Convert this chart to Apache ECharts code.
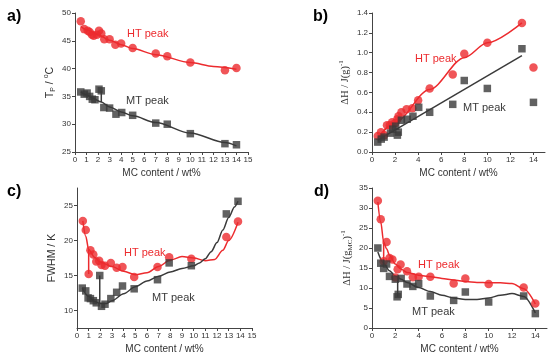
<!DOCTYPE html>
<html>
<head>
<meta charset="utf-8">
<script src="https://cdn.jsdelivr.net/npm/echarts@6/dist/echarts.min.js"></script>
<style>
html,body{margin:0;padding:0;background:#fff;}
#c{width:550px;height:359px;}
</style>
</head>
<body>
<div id="c"></div>
<script>
// ---------- DATA ----------
// panel a: peak temperature
const aHT = [[0.5,48.5],[0.8,47.1],[1.1,46.8],[1.27,46.6],[1.47,46.1],[1.62,45.9],[1.9,46.1],[2.08,46.8],[2.28,46.3],[2.54,45.3],[3,45.3],[3.5,44.3],[4,44.5],[5,43.7],[7,42.7],[8,42.2],[10,41.1],[13,39.7],[14,40.1]];
const aMT = [[0.5,35.8],[0.8,35.4],[1.05,35.6],[1.27,35.0],[1.5,34.5],[1.73,34.4],[2.08,36.3],[2.28,36.0],[2.5,33.0],[3,32.9],[3.55,31.8],[4.05,32.1],[5,31.6],[7,30.2],[8,30.0],[10,28.3],[13,26.5],[14,26.3]];
const aHTfit = [[0.5,47.6],[1,47.0],[2,46.1],[3,45.1],[4,44.3],[5,43.6],[7,42.5],[10,41.1],[12,40.4],[14,39.9]];
const aMTfit = [[0.5,35.8],[1,35.3],[1.5,34.7],[2.28,34.0],[3,33.1],[4,32.2],[5,31.5],[7,30.3],[10,28.4],[13,26.7],[14,26.1]];
const aMTspike = [[2.28,36.0],[2.28,34.0]];
// panel b: enthalpy per gram
const bHT = [[0.5,0.16],[0.78,0.20],[1.05,0.17],[1.3,0.27],[1.55,0.27],[1.75,0.30],[2,0.29],[2.2,0.33],[2.3,0.36],[2.55,0.40],[3,0.43],[3.5,0.44],[4,0.52],[5,0.64],[7,0.78],[8,0.99],[10,1.10],[13,1.30],[14,0.85]];
const bMT = [[0.5,0.10],[0.8,0.13],[1.05,0.15],[1.6,0.19],[1.8,0.23],[2.05,0.26],[2.2,0.17],[2.28,0.20],[2.55,0.32],[3.05,0.33],[3.55,0.36],[4.05,0.45],[5,0.40],[7,0.48],[8,0.72],[10,0.64],[13,1.04],[14,0.50]];
const bHTfit = [[0.5,0.14],[2,0.30],[5,0.63],[8,0.95],[10,1.10],[13,1.30]];
const bMTfit = [[0.5,0.12],[13,0.97]];
// panel c: FWHM
const cHT = [[0.5,22.8],[0.75,21.5],[1,15.2],[1.15,18.6],[1.4,18.0],[1.65,17.0],[1.9,17.1],[2.1,16.5],[2.4,16.4],[2.9,16.8],[3.4,16.1],[3.9,16.2],[4.9,14.8],[6.9,16.2],[7.9,17.6],[9.8,17.4],[12.8,20.5],[13.8,22.7]];
const cMT = [[0.45,13.2],[0.75,12.8],[0.95,11.8],[1.15,11.7],[1.4,11.4],[1.65,11.1],[1.95,15.0],[2.1,10.6],[2.4,10.9],[2.9,11.7],[3.4,12.6],[3.9,13.5],[4.9,13.1],[6.9,14.4],[7.9,16.8],[9.8,16.4],[12.8,23.8],[13.8,25.6]];
const cHTfit = [[0.5,22.8],[0.75,20.6],[1,18.7],[1.5,17.6],[2,16.9],[3,16.3],[4,15.6],[5,15.1],[6,15.4],[7,16.3],[8,17.2],[9,17.7],[10,17.5],[11,17.1],[11.8,17.3],[12.5,18.6],[13,20.0],[13.8,22.6]];
const cHTspike = [[1,18.7],[1,15.2]];
const cMTfit = [[0.45,13.2],[1,12.0],[1.5,11.3],[1.95,11.0],[2.5,11.0],[3,11.4],[4,12.4],[5,13.4],[6,14.2],[7,14.9],[8,15.5],[9,16.0],[10,16.4],[10.5,16.8],[11,17.4],[11.5,18.4],[12,19.7],[12.5,21.5],[13,23.3],[13.5,24.8],[13.8,25.6]];
const cMTspike = [[1.95,11.0],[1.95,15.0]];
// panel d: enthalpy per gram MC
const dHT = [[0.5,31.8],[0.75,27.2],[1,16.7],[1.25,21.5],[1.5,17.5],[1.75,17.1],[2,12.6],[2.2,14.7],[2.45,15.9],[3,14.2],[3.5,12.7],[4,12.8],[5,12.8],[7,11.1],[8,12.4],[10,11.0],[13,10.1],[14,6.1]];
const dMT = [[0.5,20.0],[0.75,16.2],[1,14.9],[1.25,16.0],[1.5,12.9],[2,12.2],[2.15,7.8],[2.25,8.4],[2.5,12.4],[3,11.0],[3.5,10.4],[4,11.1],[5,8.0],[7,6.9],[8,9.0],[10,6.5],[13,8.0],[14,3.6]];
const dHTfit = [[0.5,31.5],[0.75,26.5],[1,21.5],[1.25,19.8],[1.5,18.2],[2,16.0],[2.5,14.7],[3,13.9],[4,13.2],[5,12.8],[6,12.4],[7,12.0],[8,11.6],[9,11.4],[10,11.3],[11,11.3],[12,11.1],[13,9.8],[14,6.0]];
const dHTspike = [[1,21.3],[1,16.7]];
const dMTfit = [[0.5,19.0],[1,16.2],[1.5,14.3],[2,13.0],[2.5,12.2],[3,11.4],[4,10.1],[5,9.1],[6,8.2],[7,7.5],[8,7.1],[9,7.1],[10,7.5],[11,8.2],[12,8.6],[13,7.9],[14,3.8]];
const dMTspike = [[2.2,12.5],[2.2,7.8]];
// tick labels
const xTicksEven = [0,2,4,6,8,10,12,14];
const cYTicks = [10,15,20,25];
const panelLabels = ['a)','b)','c)','d)'];
const peakLabels = ['HT peak','MT peak'];
const xTitle = 'MC content / wt%';

// ---------- STYLE ----------
const RED = '#ec2b2e';
const BLK = '#3a3a3a';
const TXT = '#333';
const axisLine = {show:true, lineStyle:{color:'#444', width:1}};
const axisTick = {show:true, length:3, lineStyle:{color:'#444'}};
const lbl = {fontSize:8, color:TXT, fontFamily:'Liberation Sans, Arial', margin:4};

function xAx(grid, interval, custom){
  const o = {type:'value', gridIndex:grid, min:0, max:15, interval:interval,
    axisLine, axisTick:Object.assign({},axisTick), splitLine:{show:false},
    axisLabel:Object.assign({},lbl),
    name:xTitle, nameLocation:'middle', nameGap:16,
    nameTextStyle:{fontSize:10, color:TXT, fontFamily:'Liberation Sans, Arial'}};
  if(custom){ o.axisLabel.customValues = custom; o.axisTick.customValues = custom; }
  return o;
}
function yAx(grid, min, max, interval, name, rich, gap, fmt, custom){
  const o = {type:'value', gridIndex:grid, min, max, interval,
    axisLine, axisTick:Object.assign({},axisTick), splitLine:{show:false},
    axisLabel:Object.assign({},lbl),
    name, nameLocation:'middle', nameRotate:90, nameGap:gap,
    nameTextStyle:{color:TXT, rich}};
  if(fmt) o.axisLabel.formatter = fmt;
  if(custom){ o.axisLabel.customValues = custom; o.axisTick.customValues = custom; }
  return o;
}
const sans = 'Liberation Sans, Arial';
const serif = 'Liberation Serif, Times New Roman';
const richA = {
  n:{fontSize:10.5, fontFamily:sans, lineHeight:14},
  sub:{fontSize:7, fontFamily:sans, verticalAlign:'bottom', lineHeight:9},
  sup:{fontSize:7, fontFamily:sans, verticalAlign:'top', lineHeight:9}
};
const richS = {
  n:{fontSize:10.5, fontFamily:serif, lineHeight:14},
  sub:{fontSize:7, fontFamily:serif, verticalAlign:'bottom', lineHeight:9},
  sup:{fontSize:7, fontFamily:serif, verticalAlign:'top', lineHeight:9}
};

function scat(data, x, y, isHT){
  return {type:'scatter', xAxisIndex:x, yAxisIndex:y, data,
    symbol: isHT ? 'circle' : 'rect', symbolSize: isHT ? 8.5 : 7.5,
    itemStyle:{color: isHT ? RED : BLK}, z:3, silent:true};
}
function line(data, x, y, isHT, smooth){
  return {type:'line', xAxisIndex:x, yAxisIndex:y, data, showSymbol:false,
    smooth: smooth, smoothMonotone:'x',
    lineStyle:{color: isHT ? RED : BLK, width:1.5}, z:2, silent:true};
}

const chart = echarts.init(document.getElementById('c'), null, {renderer:'canvas'});
const gTxt = (t, x, y, color, size, weight) => ({type:'text', left:x, top:y,
  style:{text:t, fill:color, fontSize:size, fontWeight:weight||'normal', fontFamily:sans}});

chart.setOption({
  animation:false,
  backgroundColor:'#fff',
  grid:[
    {left:75, top:13, width:173, height:139},
    {left:372, top:13, width:173, height:139},
    {left:77, top:188, width:175, height:140},
    {left:372, top:188, width:175, height:140}
  ],
  xAxis:[ xAx(0,1), xAx(1,2,xTicksEven), xAx(2,1), xAx(3,2,xTicksEven) ],
  yAxis:[
    yAx(0,25,50,5,'{n|T}{sub|P}{n| / }{sup|o}{n|C}', richA, 18),
    yAx(1,0,1.4,0.2,'{n|ΔH / J(g)}{sup|-1}', richS, 20, v => v.toFixed(1)),
    yAx(2,7.5,27.5,2.5,'{n|FWHM / K}', richA, 18, null, cYTicks),
    yAx(3,0,35,5,'{n|ΔH / J(g}{sub|MC}{n|)}{sup|-1}', richS, 18)
  ],
  series:[
    line(aHTfit,0,0,true,0.3), line(aMTfit,0,0,false,0.3), line(aMTspike,0,0,false,false),
    scat(aHT,0,0,true), scat(aMT,0,0,false),
    line(bHTfit,1,1,true,0.3), line(bMTfit,1,1,false,false),
    scat(bHT,1,1,true), scat(bMT,1,1,false),
    line(cHTfit,2,2,true,0.3), line(cHTspike,2,2,true,false),
    line(cMTfit,2,2,false,0.3), line(cMTspike,2,2,false,false),
    scat(cHT,2,2,true), scat(cMT,2,2,false),
    line(dHTfit,3,3,true,0.3), line(dHTspike,3,3,true,false),
    line(dMTfit,3,3,false,0.3), line(dMTspike,3,3,false,false),
    scat(dHT,3,3,true), scat(dMT,3,3,false)
  ],
  graphic:[
    gTxt(panelLabels[0], 7, 9, '#000', 16, 'bold'),
    gTxt(panelLabels[1], 313, 9, '#000', 16, 'bold'),
    gTxt(panelLabels[2], 7, 184, '#000', 16, 'bold'),
    gTxt(panelLabels[3], 314, 184, '#000', 16, 'bold'),
    gTxt(peakLabels[0], 127, 28, RED, 11),
    gTxt(peakLabels[1], 126, 95, BLK, 11),
    gTxt(peakLabels[0], 415, 53, RED, 11),
    gTxt(peakLabels[1], 463, 102, BLK, 11),
    gTxt(peakLabels[0], 124, 247, RED, 11),
    gTxt(peakLabels[1], 152, 292, BLK, 11),
    gTxt(peakLabels[0], 418, 259, RED, 11),
    gTxt(peakLabels[1], 412, 306, BLK, 11)
  ]
});
</script>
</body>
</html>
